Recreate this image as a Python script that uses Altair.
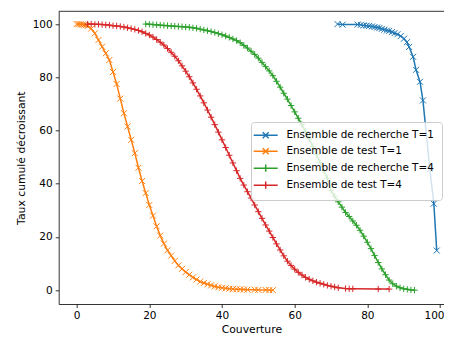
import altair as alt
import pandas as pd

# ---------------- data ----------------
names = ["Ensemble de recherche T=1", "Ensemble de test T=1",
         "Ensemble de recherche T=4", "Ensemble de test T=4"]
colors = ["#1f77b4", "#ff7f0e", "#2ca02c", "#d62728"]

rech1_x = [71.8, 73.2, 77.3, 78.2, 79.0, 79.8, 80.5, 81.3, 82.0, 82.7, 83.3, 84.0, 84.7,
           85.4, 86.0, 86.8, 87.5, 88.3, 89.2, 90.1, 90.9, 91.5, 92.6, 93.4, 94.5, 95.3,
           97.2, 98.3, 99.1]
rech1_y = [100, 99.8, 99.8, 99.7, 99.5, 99.4, 99.3, 99.1, 98.9, 98.7, 98.5, 98.2, 97.9,
           97.6, 97.4, 97.0, 96.6, 96.2, 95.5, 94.5, 93.2, 91.4, 87.7, 82.8, 78.3, 71.3,
           45.5, 32.5, 14.9]

test1_x = [0, 0.5, 1, 1.5, 2, 2.5, 3, 4, 5, 6, 7, 8, 9, 10, 11, 12, 13, 14, 15, 16, 17, 18,
           19, 20, 21, 22, 23, 24, 25, 26, 27, 28, 29, 30, 31, 32, 33, 34, 35, 36, 37, 38,
           39, 40, 41, 42, 43, 44, 45, 46, 47, 49, 50, 52, 53, 54]
test1_y = [100, 100, 99.9, 99.8, 99.7, 99.6, 99.3, 98.3, 96.5, 94, 91.5, 89, 86.5, 82, 77.5,
           72, 66.5, 61.5, 56.5, 51.5, 46, 41, 36.5, 32, 28, 24, 20.5, 17.5, 15, 13, 11,
           9.3, 8, 6.8, 5.8, 4.8, 4, 3.2, 2.7, 2.2, 1.8, 1.4, 1.1, 0.9, 0.7, 0.55, 0.4,
           0.35, 0.3, 0.25, 0.2, 0.15, 0.1, 0.05, 0.02, 0]

rech4_x = [19, 20, 21, 22, 23, 24, 25, 26, 27, 28, 29, 30, 31, 32, 33, 34, 35, 36, 37, 38,
           39, 40, 41, 42, 43, 44, 45, 46, 47, 48, 49, 50, 51, 52, 53, 54, 55, 56, 57, 58,
           59, 60, 61, 62, 63, 64, 65, 66, 67, 68, 69, 70, 71, 72, 73, 74, 75, 76, 77, 78,
           79, 80, 81, 82, 83, 84, 85, 86, 87, 88, 89, 90, 91, 92, 93]
rech4_y = [100, 99.9, 99.8, 99.7, 99.6, 99.5, 99.4, 99.3, 99.2, 99.1, 99, 98.9, 98.8, 98.6,
           98.4, 98.1, 97.8, 97.5, 97.2, 96.8, 96.4, 96, 95.5, 95, 94.4, 93.8, 93, 92, 91,
           89.8, 88.6, 87.2, 85.6, 84, 82.4, 80.6, 78.5, 76.3, 74, 71.8, 69.4, 67, 64.6,
           62.2, 59.6, 56.8, 54, 51, 48, 45, 42, 37.5, 35.3, 33.2, 31.2, 29.2, 27.7, 26,
           24.4, 22.5, 20.3, 18, 15.6, 13, 10.4, 8, 5.8, 3.8, 2.4, 1.5, 0.9, 0.5, 0.3,
           0.1, 0]

test4_x = [3, 4, 5, 6, 7, 8, 9, 10, 11, 12, 13, 14, 15, 16, 17, 18, 19, 20, 21, 22, 23, 24,
           25, 26, 27, 28, 29, 30, 31, 32, 33, 34, 35, 36, 37, 38, 39, 40, 41, 42, 43, 44,
           45, 46, 47, 48, 49, 50, 51, 52, 53, 54, 55, 56, 57, 58, 59, 60, 61, 62, 63, 64,
           65, 66, 67, 68, 69, 70, 71, 72, 74, 75, 76, 83, 86]
test4_y = [100, 100, 99.9, 99.9, 99.8, 99.7, 99.6, 99.4, 99.3, 99.1, 98.9, 98.6, 98.3, 98,
           97.6, 97.1, 96.5, 95.9, 95.1, 94.2, 93.2, 92.1, 90.8, 89.4, 87.9, 86.2, 84.3,
           82.3, 80.2, 77.9, 75.5, 73, 70.4, 67.7, 65, 62.2, 59.4, 56.5, 53.6, 50.7, 47.8,
           44.9, 42, 39.5, 37, 34.6, 32, 29.5, 27, 24.5, 22.2, 19.8, 17.4, 15.1, 12.9, 10.9,
           9.3, 7.9, 6.7, 5.7, 4.8, 4.1, 3.5, 3, 2.6, 2.2, 1.8, 1.5, 1.2, 0.9, 0.6, 0.5,
           0.5, 0.4, 0.4]

x_ticks = [0, 20, 40, 60, 80, 100]
y_ticks = [0, 20, 40, 60, 80, 100]

series = [(names[0], rech1_x, rech1_y, "x"), (names[1], test1_x, test1_y, "x"),
          (names[2], rech4_x, rech4_y, "+"), (names[3], test4_x, test4_y, "+")]
rows = []
for name, xs_, ys_, m in series:
    for i, (a, b) in enumerate(zip(xs_, ys_)):
        rows.append({"serie": name, "x": a, "y": b, "i": i, "m": m})
df = pd.DataFrame(rows)

# ---------------- styling ----------------
W, H = 385.3, 292.7
FONT = "DejaVu Sans"
X_PATH = "M-1,-1L1,1M-1,1L1,-1"
P_PATH = "M-1,0L1,0M0,-1L0,1"
LEG_X = "M-4,0L4,0M-1,-1L1,1M-1,1L1,-1"
LEG_P = "M-4,0L4,0M-1.2,0L1.2,0M0,-1.2L0,1.2"

color_scale = alt.Scale(domain=names, range=colors)
xs = alt.Scale(domain=[-4.95, 101.1], nice=False, zero=False)
ys = alt.Scale(domain=[-5.2, 104.8], nice=False, zero=False)

x_enc = alt.X("x:Q", scale=xs, title="Couverture",
              axis=alt.Axis(values=x_ticks, grid=False,
                            labelOffset={"condition": {"test": "datum.value === 100",
                                                       "value": -6},
                                         "value": 0}))
y_enc = alt.Y("y:Q", scale=ys, title="Taux cumulé décroissant",
              axis=alt.Axis(values=y_ticks, grid=False))

legend = alt.Legend(orient="none", legendX=192.3, legendY=110.7, title=None,
                    labelFont=FONT, labelFontSize=10.4, labelColor="#000000",
                    symbolSize=36, symbolStrokeWidth=1.5, symbolOffset=1.5,
                    labelOffset=15.5, rowPadding=3, padding=8,
                    fillColor="rgba(255,255,255,0.8)", strokeColor="#cccccc",
                    cornerRadius=3)

col = alt.Color("serie:N", scale=color_scale, legend=legend)

base = alt.Chart(df)

lines = base.mark_line(strokeWidth=1.5).encode(
    x=x_enc, y=y_enc, color=col, order="i:Q", detail="serie:N")

pts_x = base.transform_filter(alt.datum.m == "x").mark_point(
    shape=X_PATH, filled=False, size=36, strokeWidth=1, opacity=1).encode(
    x=x_enc, y=y_enc, color=col)

pts_p = base.transform_filter(alt.datum.m == "+").mark_point(
    shape=P_PATH, filled=False, size=40, strokeWidth=1, opacity=1).encode(
    x=x_enc, y=y_enc, color=col)

leg_layer = base.transform_filter("false").mark_point(
    filled=False, size=36, strokeWidth=1.5, opacity=1).encode(
    x=x_enc, y=y_enc, color=col,
    shape=alt.Shape("serie:N", scale=alt.Scale(domain=names,
                                               range=[LEG_X, LEG_X, LEG_P, LEG_P]),
                    legend=legend))

top_spine = alt.Chart(pd.DataFrame({"k": [0]})).mark_rule(
    color="black", strokeWidth=0.8).encode(
    x=alt.value(0), x2=alt.value(W), y=alt.value(0))

chart = alt.layer(lines, pts_x, pts_p, leg_layer, top_spine).properties(
    width=W, height=H,
    autosize=alt.AutoSizeParams(type="none"),
    padding={"left": 50.7, "top": 3.3, "right": 0, "bottom": 30},
).configure_view(stroke=None).configure_axis(
    labelFont=FONT, labelFontSize=10.5, labelColor="#000000",
    titleFont=FONT, titleFontSize=10.8, titleFontWeight="normal", titleColor="#000000",
    domainColor="#000000", domainWidth=0.8, tickColor="#000000", tickWidth=0.8,
    tickSize=3.5, labelPadding=3,
).configure_axisX(titlePadding=2).configure_axisY(titlePadding=6)

chart.save("out.html", embed_options={"renderer": "svg", "actions": False})
